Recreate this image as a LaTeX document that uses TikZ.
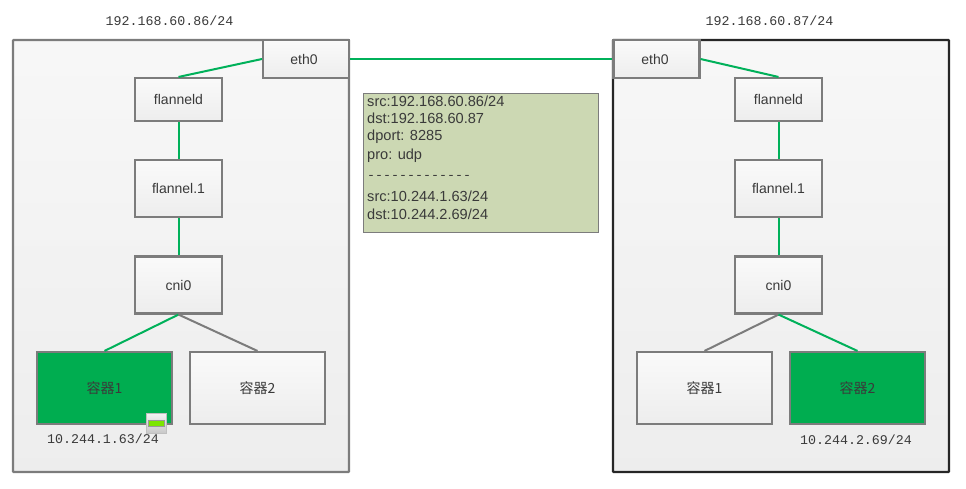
\documentclass[tikz,border=0pt]{standalone}
\usepackage{fontspec}
\setmainfont{Liberation Sans}
\newfontfamily\ipfont{Liberation Mono}
\newfontfamily\cjkfont{Noto Sans CJK SC}
\definecolor{linkgreen}{HTML}{00B15A}
\definecolor{fillgreen}{HTML}{00AD50}
\definecolor{edgegray}{HTML}{7C7C7C}
\definecolor{notefill}{HTML}{CCD8B3}
\definecolor{textgray}{HTML}{3A3A3A}
\definecolor{ledgreen}{HTML}{7CE600}
\tikzset{
  x=1pt,y=-1pt,
  hostbox/.style={rectangle,draw=edgegray,line width=2.2pt,top color=white!97!black,bottom color=white!93!black,minimum width=336pt,minimum height=432pt,rounded corners=0.6pt,inner sep=0pt},
  devbox/.style={rectangle,draw=edgegray,line width=2.1pt,top color=white!98!black,bottom color=white!93!black,text=textgray,font=\fontsize{14}{16}\selectfont,inner sep=0pt},
  portbox/.style={devbox,minimum width=86pt,minimum height=38pt},
  smallbox/.style={devbox,minimum width=87pt,minimum height=43pt},
  midbox/.style={devbox,minimum width=87pt,minimum height=57pt},
  podbox/.style={devbox,minimum width=135pt,minimum height=72pt,font=\cjkfont\fontsize{14}{16}\selectfont},
  podon/.style={podbox,top color=fillgreen,bottom color=fillgreen},
  greenlink/.style={draw=linkgreen,line width=2pt},
  graylink/.style={draw=edgegray,line width=2pt},
  iplabel/.style={inner sep=0pt,text=textgray,font=\ipfont\fontsize{13.3}{16}\selectfont},
  notebox/.style={rectangle,draw=edgegray,line width=0.8pt,fill=notefill,minimum width=235pt,minimum height=139pt,inner sep=0pt},
  notetext/.style={inner sep=0pt,align=left,text=textgray,font=\fontsize{14.6}{17}\selectfont},
}
\begin{document}
\begin{tikzpicture}
\useasboundingbox (0,0) rectangle (966,488);

% hosts
\node[hostbox] (hostL) at (181,256) {};
\node[hostbox,draw=black!85] (hostR) at (781,256) {};

% left host devices
\node[portbox] (ethL) at (306,59) {eth0\kern4pt};
\node[smallbox] (fdL) at (178.5,99.5) {flanneld};
\node[midbox] (f1L) at (178.5,188.5) {flannel.1};
\node[midbox] (cniL) at (178.5,285) {cni0};
\node[podon] (p1L) at (104.5,388) {容器1};
\node[podbox] (p2L) at (257.5,388) {容器2};

% right host devices
\node[portbox] (ethR) at (656.5,59) {eth0\kern3pt};
\node[smallbox] (fdR) at (778.5,99.5) {flanneld};
\node[midbox] (f1R) at (778.5,188.5) {flannel.1};
\node[midbox] (cniR) at (778.5,285) {cni0};
\node[podbox] (p1R) at (704.5,388) {容器1};
\node[podon] (p2R) at (857.5,388) {容器2};

% links
\draw[greenlink] (ethL.east) -- (ethR.west);
\draw[greenlink] (ethL.west) -- (fdL.north);
\draw[greenlink] (fdL) -- (f1L);
\draw[greenlink] (f1L) -- (cniL);
\draw[greenlink] (cniL.south) -- (p1L.north);
\draw[graylink] (cniL.south) -- (p2L.north);
\draw[greenlink] (ethR.east) -- (fdR.north);
\draw[greenlink] (fdR) -- (f1R);
\draw[greenlink] (f1R) -- (cniR);
\draw[graylink] (cniR.south) -- (p1R.north);
\draw[greenlink] (cniR.south) -- (p2R.north);

% labels
\node[iplabel] (ipL) at (169.5,21) {192.168.60.86/24};
\node[iplabel] (ipR) at (769.5,21) {192.168.60.87/24};
\node[iplabel] (ipP1) at (103,439) {10.244.1.63/24};
\node[iplabel] (ipP2) at (856,439.5) {10.244.2.69/24};

% small port icon on the left container
\node[rectangle,draw=black!25,line width=1pt,top color=white!95!black,bottom color=black!22,minimum width=20pt,minimum height=20pt,inner sep=0pt] (icon) at (156.5,423.5) {};
\node[rectangle,draw=black!40,line width=0.6pt,fill=ledgreen,minimum width=16pt,minimum height=6.5pt,inner sep=0pt] (iconled) at (156.5,423.2) {};

% packet note
\node[notebox] (note) at (480.5,162.5) {};
\node[notetext,anchor=north west] (notetxt) at (367,96) {%
src:192.168.60.86/24\\
dst:192.168.60.87\\[-0.3pt]
dport: 8285\\[2pt]
pro: udp\\[3pt]
{\ipfont\fontsize{13.33}{17}\selectfont -------------}\\[5pt]
src:10.244.1.63/24\\[1pt]
dst:10.244.2.69/24};
\end{tikzpicture}
\end{document}
